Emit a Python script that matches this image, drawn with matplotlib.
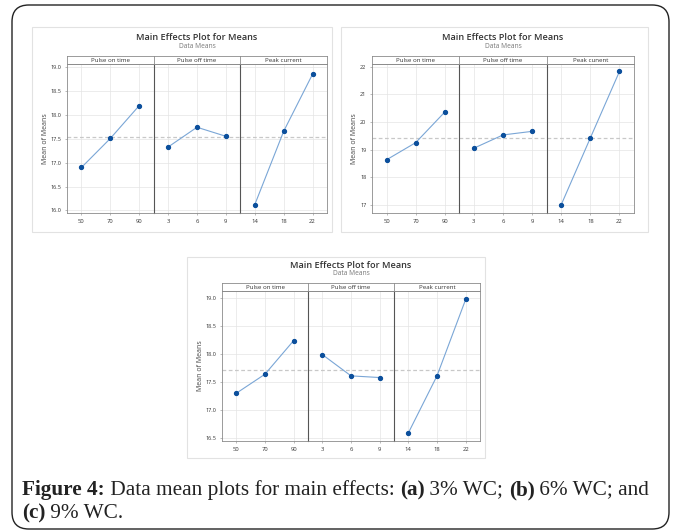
import matplotlib
matplotlib.use("Agg")
import matplotlib.pyplot as plt
from matplotlib.patches import FancyBboxPatch, Rectangle
import numpy as np

W, H = 673, 531

factors = ["Pulse on time", "Pulse off time", "Peak current"]
factors_b = ["Pulse on time", "Pulse off time", "Peak cunent"]
levels_on = ["50", "70", "90"]
levels_off = ["3", "6", "9"]
levels_peak = ["14", "18", "22"]

# (a) 3% WC
a_on = [16.90, 17.51, 18.20]
a_off = [17.33, 17.745, 17.555]
a_peak = [16.12, 17.66, 18.86]
a_mean = 17.535
a_ticks = [16.0, 16.5, 17.0, 17.5, 18.0, 18.5, 19.0]

# (b) 6% WC
b_on = [18.63, 19.25, 20.36]
b_off = [19.05, 19.53, 19.66]
b_peak = [17.00, 19.42, 21.83]
b_mean = 19.42
b_ticks = [17, 18, 19, 20, 21, 22]

# (c) 9% WC
c_on = [17.30, 17.64, 18.24]
c_off = [17.99, 17.61, 17.58]
c_peak = [16.59, 17.61, 18.975]
c_mean = 17.72
c_ticks = [16.5, 17.0, 17.5, 18.0, 18.5, 19.0]

FONT = "Open Sans"
LINE_C = "#7aa6d6"
MARK_C = "#0b4f9c"
GRID_C = "#e4e4e4"
SPINE_C = "#8a8a8a"

fig = plt.figure(figsize=(W / 100, H / 100), dpi=100)


def fx(x):
    return x / W


def fy(y):
    return 1 - y / H


def add_ax(x0, y0, x1, y1):
    return fig.add_axes([fx(x0), fy(y1), fx(x1) - fx(x0), fy(y0) - fy(y1)])


# outer rounded frame
frame = FancyBboxPatch((fx(12), fy(529)), fx(669) - fx(12), fy(5) - fy(529),
                       boxstyle="round,pad=0,rounding_size=0.025",
                       transform=fig.transFigure, fill=False,
                       edgecolor="#222222", linewidth=1.0, mutation_aspect=W / H)
fig.patches.append(frame)


def draw_panel(box, plot, strip_top, ylim, yticks, yfmt, series, mean, names,
               title_y, sub_y, ylab_x):
    bx0, by0, bx1, by1 = box
    fig.patches.append(Rectangle((fx(bx0), fy(by1)), fx(bx1) - fx(bx0), fy(by0) - fy(by1),
                                 transform=fig.transFigure, fill=False,
                                 edgecolor="#e2e2e2", linewidth=0.8))
    px0, py0, px1, py1 = plot
    cx = (px0 + px1) / 2
    fig.text(fx(cx), fy(title_y), "Main Effects Plot for Means", ha="center", va="center",
             fontsize=6.6, fontweight="semibold", color="#333333", family=FONT)
    fig.text(fx(cx), fy(sub_y), "Data Means", ha="center", va="center",
             fontsize=4.8, color="#777777", family=FONT)
    fig.text(fx(ylab_x), fy((py0 + py1) / 2), "Mean of Means", ha="center", va="center",
             rotation=90, fontsize=5.0, color="#444444", family=FONT)
    sw = (px1 - px0) / 3
    levels = [levels_on, levels_off, levels_peak]
    for i in range(3):
        x0 = px0 + i * sw
        x1 = x0 + sw
        ax = add_ax(x0, py0, x1, py1)
        ax.plot(range(3), series[i], color=LINE_C, linewidth=0.8, zorder=3)
        ax.plot(range(3), series[i], linestyle="none", marker="o", markersize=2.8,
                color=MARK_C, zorder=4)
        ax.axhline(mean, color="#c8c8c8", linestyle=(0, (3, 2)), linewidth=0.9, zorder=2)
        ax.set_xlim(-0.5, 2.5)
        ax.set_ylim(*ylim)
        ax.set_xticks(range(3))
        ax.set_xticklabels(levels[i], fontsize=4.2, family=FONT, color="#333333")
        ax.set_yticks(yticks)
        ax.grid(True, color=GRID_C, linewidth=0.5)
        ax.set_axisbelow(True)
        ax.tick_params(length=1.5, width=0.4, pad=2.5, color="#888888")
        if i == 0:
            ax.set_yticklabels([yfmt.format(v) for v in yticks], fontsize=4.0,
                               family=FONT, color="#333333")
        else:
            ax.tick_params(axis="y", left=False, labelleft=False)
        for s in ax.spines.values():
            s.set_color(SPINE_C)
            s.set_linewidth(0.6)
        if i > 0:
            ax.spines["left"].set_color("#555555")
            ax.spines["left"].set_linewidth(0.8)
        # strip header
        sax = add_ax(x0, strip_top, x1, py0)
        sax.set_xticks([])
        sax.set_yticks([])
        for s in sax.spines.values():
            s.set_color(SPINE_C)
            s.set_linewidth(0.6)
        sax.text(0.5, 0.45, names[i], ha="center", va="center", fontsize=4.4,
                 family=FONT, color="#333333", transform=sax.transAxes)


draw_panel((32, 27, 332, 232), (67, 63.5, 327, 213), 56, (15.944, 19.084), a_ticks, "{:.1f}",
           [a_on, a_off, a_peak], a_mean, factors, 37, 47, 46)
draw_panel((341, 27, 648, 232), (372, 63.5, 634, 213), 56, (16.70, 22.12), b_ticks, "{:d}",
           [b_on, b_off, b_peak], b_mean, factors_b, 37, 47, 355)
draw_panel((187, 257, 485, 458), (222, 291, 480, 441), 283, (16.447, 19.125), c_ticks, "{:.1f}",
           [c_on, c_off, c_peak], c_mean, factors, 265, 274, 200)

# caption
SERIF = ["Liberation Serif", "DejaVu Serif"]
cap_size = 15.3
y1 = fy(490)
y2 = fy(513)
parts1 = [("Figure 4:", True), (" Data mean plots for main effects: ", False), ("(a)", True),
          (" 3% WC; ", False), ("(b)", True), (" 6% WC; and", False)]
parts2 = [("(c)", True), (" 9% WC.", False)]

fig.canvas.draw()
renderer = fig.canvas.get_renderer()


def draw_line(parts, y):
    x = fx(22)
    for txt, bold in parts:
        t = fig.text(x, y, txt, fontsize=cap_size, family=SERIF,
                     fontweight="bold" if bold else "normal", color="#222222",
                     ha="left", va="center")
        bb = t.get_window_extent(renderer=renderer)
        x += bb.width / fig.bbox.width


draw_line(parts1, y1)
draw_line(parts2, y2)

fig.savefig("out.png", dpi=100)
